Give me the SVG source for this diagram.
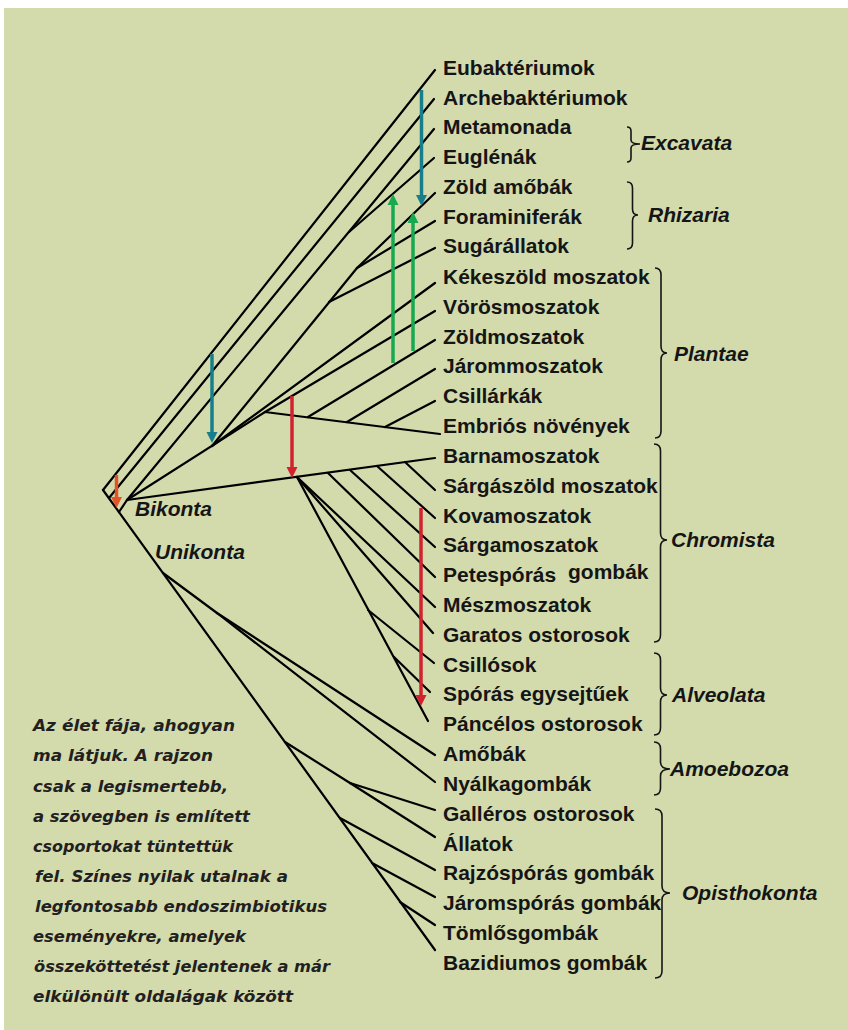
<svg xmlns="http://www.w3.org/2000/svg" width="848" height="1030" viewBox="0 0 848 1030">
<style>
.br{fill:none;stroke:#000;stroke-width:2.2;stroke-linecap:round}
.lb{font-family:"Liberation Sans",Arial,sans-serif;font-weight:bold;font-size:21px;fill:#151515}
.gr{font-family:"Liberation Sans",Arial,sans-serif;font-weight:bold;font-style:italic;font-size:21px;fill:#151515}
.bc{fill:none;stroke:#151515;stroke-width:1.6}
.cap{font-family:"DejaVu Sans",sans-serif;font-weight:bold;font-style:italic;font-size:16.5px;fill:#231f20}
.ar{stroke-width:3.5;fill:none}
</style>
<defs>
<marker id="hT" viewBox="0 0 10 10" refX="0" refY="5" markerWidth="11" markerHeight="12" markerUnits="userSpaceOnUse" orient="auto"><path d="M0,0 L10,5 L0,10 z" fill="#177f8c"/></marker>
<marker id="hG" viewBox="0 0 10 10" refX="0" refY="5" markerWidth="11" markerHeight="12" markerUnits="userSpaceOnUse" orient="auto"><path d="M0,0 L10,5 L0,10 z" fill="#17a950"/></marker>
<marker id="hR" viewBox="0 0 10 10" refX="0" refY="5" markerWidth="11" markerHeight="12" markerUnits="userSpaceOnUse" orient="auto"><path d="M0,0 L10,5 L0,10 z" fill="#d2222f"/></marker>
<marker id="hO" viewBox="0 0 10 10" refX="0" refY="5" markerWidth="11" markerHeight="12" markerUnits="userSpaceOnUse" orient="auto"><path d="M0,0 L10,5 L0,10 z" fill="#e05428"/></marker>
</defs>
<rect x="4" y="8" width="844" height="1022" fill="#d3dbad"/>

<g id="connectors" class="br">
<line x1="103" y1="490" x2="435" y2="70"/>
<line x1="103" y1="490" x2="435" y2="950"/>
<line x1="109" y1="498" x2="434" y2="99"/>
<line x1="119" y1="512" x2="127" y2="500"/>
<line x1="127" y1="500" x2="434" y2="129"/>
<line x1="349" y1="232" x2="434" y2="158"/>
<line x1="127" y1="500" x2="265" y2="412"/>
<line x1="212" y1="446" x2="357" y2="268"/>
<line x1="357" y1="268" x2="435" y2="193"/>
<line x1="357" y1="268" x2="435" y2="221"/>
<line x1="329" y1="302" x2="435" y2="248"/>
<line x1="212" y1="446" x2="435" y2="283"/>
<line x1="265" y1="412" x2="435" y2="311"/>
<line x1="265" y1="412" x2="440" y2="434"/>
<line x1="308" y1="417" x2="435" y2="340"/>
<line x1="347" y1="422" x2="435" y2="369"/>
<line x1="385" y1="427" x2="435" y2="401"/>
<line x1="127" y1="500" x2="435" y2="458"/>
<line x1="405" y1="462" x2="435" y2="490"/>
<line x1="377" y1="466" x2="435" y2="518"/>
<line x1="350" y1="470" x2="435" y2="547"/>
<line x1="328" y1="473" x2="435" y2="577"/>
<line x1="297" y1="477" x2="435" y2="607"/>
<line x1="297" y1="477" x2="433" y2="633"/>
<line x1="297" y1="477" x2="428" y2="721"/>
<line x1="368" y1="610" x2="434" y2="663"/>
<line x1="394" y1="657" x2="430" y2="692"/>
<line x1="163" y1="573" x2="217" y2="613"/>
<line x1="217" y1="613" x2="435" y2="755"/>
<line x1="217" y1="613" x2="435" y2="782"/>
<line x1="285" y1="742" x2="350" y2="783"/>
<line x1="350" y1="783" x2="435" y2="810"/>
<line x1="350" y1="783" x2="435" y2="837"/>
<line x1="340" y1="818" x2="435" y2="870"/>
<line x1="372" y1="863" x2="435" y2="897"/>
<line x1="400" y1="902" x2="435" y2="925"/>
</g>

<g id="arrows">
<line class="ar" stroke="#177f8c" x1="421.5" y1="90" x2="421.5" y2="195" marker-end="url(#hT)"/>
<line class="ar" stroke="#177f8c" x1="212" y1="354" x2="212" y2="432" marker-end="url(#hT)"/>
<line class="ar" stroke="#17a950" x1="393" y1="363" x2="393" y2="205" marker-end="url(#hG)"/>
<line class="ar" stroke="#17a950" x1="413" y1="351" x2="413" y2="223" marker-end="url(#hG)"/>
<line class="ar" stroke="#d2222f" x1="292" y1="396" x2="292" y2="467" marker-end="url(#hR)"/>
<line class="ar" stroke="#d2222f" x1="421" y1="508" x2="421" y2="695" marker-end="url(#hR)"/>
<line class="ar" stroke="#e05428" x1="116.5" y1="475" x2="116.5" y2="497" marker-end="url(#hO)"/>
</g>

<g id="leaves" class="lb">
<text x="443" y="75">Eubaktériumok</text>
<text x="443" y="104.8">Archebaktériumok</text>
<text x="443" y="134">Metamonada</text>
<text x="443" y="164">Euglénák</text>
<text x="443" y="194">Zöld amőbák</text>
<text x="443" y="223.5">Foraminiferák</text>
<text x="443" y="253">Sugárállatok</text>
<text x="443" y="283.8">Kékeszöld moszatok</text>
<text x="443" y="313.6">Vörösmoszatok</text>
<text x="443" y="343.5">Zöldmoszatok</text>
<text x="443" y="373.3">Járommoszatok</text>
<text x="443" y="403.1">Csillárkák</text>
<text x="443" y="433">Embriós növények</text>
<text x="443" y="462.8">Barnamoszatok</text>
<text x="443" y="492.6">Sárgászöld moszatok</text>
<text x="443" y="522.5">Kovamoszatok</text>
<text x="443" y="552.3">Sárgamoszatok</text>
<text x="443" y="582">Petespórás<tspan x="568" dy="-3">gombák</tspan></text>
<text x="443" y="611.9">Mészmoszatok</text>
<text x="443" y="641.8">Garatos ostorosok</text>
<text x="443" y="671.6">Csillósok</text>
<text x="443" y="701.4">Spórás egysejtűek</text>
<text x="443" y="731.3">Páncélos ostorosok</text>
<text x="443" y="761.1">Amőbák</text>
<text x="443" y="790.9">Nyálkagombák</text>
<text x="443" y="820.8">Galléros ostorosok</text>
<text x="443" y="850.6">Állatok</text>
<text x="443" y="880.4">Rajzóspórás gombák</text>
<text x="443" y="910.2">Járomspórás gombák</text>
<text x="443" y="940.1">Tömlősgombák</text>
<text x="443" y="969.9">Bazidiumos gombák</text>
</g>

<g id="bikonta"><text class="gr" x="135" y="516">Bikonta</text></g>
<g id="unikonta"><text class="gr" x="155" y="559">Unikonta</text></g>

<g id="excavata">
<path class="bc" d="M627,127 Q631,127 631,131 L631,140 Q631,144 640,144 Q631,144 631,148 L631,158 Q631,162 627,162"/>
<text class="gr" x="641" y="150">Excavata</text>
</g>
<g id="rhizaria">
<path class="bc" d="M627,182 Q632.5,182 632.5,188 L632.5,209 Q632.5,215 638,215 Q632.5,215 632.5,221 L632.5,243 Q632.5,249 627,249"/>
<text class="gr" x="648" y="222">Rhizaria</text>
</g>
<g id="plantae">
<path class="bc" d="M655,268 Q661,268 661,275 L661,346 Q661,353 667,353 Q661,353 661,360 L661,431 Q661,438 655,438"/>
<text class="gr" x="674" y="361">Plantae</text>
</g>
<g id="chromista">
<path class="bc" d="M654,444 Q660.5,444 660.5,451 L660.5,533 Q660.5,540 667,540 Q660.5,540 660.5,547 L660.5,635 Q660.5,642 654,642"/>
<text class="gr" x="671" y="547">Chromista</text>
</g>
<g id="alveolata">
<path class="bc" d="M654,653 Q660.5,653 660.5,660 L660.5,688 Q660.5,695 667,695 Q660.5,695 660.5,702 L660.5,728 Q660.5,735 654,735"/>
<text class="gr" x="672" y="702">Alveolata</text>
</g>
<g id="amoebozoa">
<path class="bc" d="M654,742 Q660.5,742 660.5,749 L660.5,762 Q660.5,769 670,769 Q660.5,769 660.5,776 L660.5,788 Q660.5,795 654,795"/>
<text class="gr" x="670" y="776">Amoebozoa</text>
</g>
<g id="opisthokonta">
<path class="bc" d="M655,809 Q662,809 662,816 L662,886 Q662,893 670,893 Q662,893 662,900 L662,971 Q662,978 655,978"/>
<text class="gr" x="682" y="900">Opisthokonta</text>
</g>

<g id="caption" class="cap">
<text x="33" y="731" textLength="202" lengthAdjust="spacingAndGlyphs">Az élet fája, ahogyan</text>
<text x="33" y="761" textLength="180" lengthAdjust="spacingAndGlyphs">ma látjuk. A rajzon</text>
<text x="33" y="792" textLength="195" lengthAdjust="spacingAndGlyphs">csak a legismertebb,</text>
<text x="33" y="822" textLength="217" lengthAdjust="spacingAndGlyphs">a szövegben is említett</text>
<text x="33" y="852" textLength="200" lengthAdjust="spacingAndGlyphs">csoportokat tüntettük</text>
<text x="35" y="882" textLength="253" lengthAdjust="spacingAndGlyphs">fel. Színes nyilak utalnak a</text>
<text x="35" y="912" textLength="292" lengthAdjust="spacingAndGlyphs">legfontosabb endoszimbiotikus</text>
<text x="33" y="942" textLength="213" lengthAdjust="spacingAndGlyphs">eseményekre, amelyek</text>
<text x="34" y="972" textLength="296" lengthAdjust="spacingAndGlyphs">összeköttetést jelentenek a már</text>
<text x="33" y="1002" textLength="260" lengthAdjust="spacingAndGlyphs">elkülönült oldalágak között</text>
</g>
</svg>
